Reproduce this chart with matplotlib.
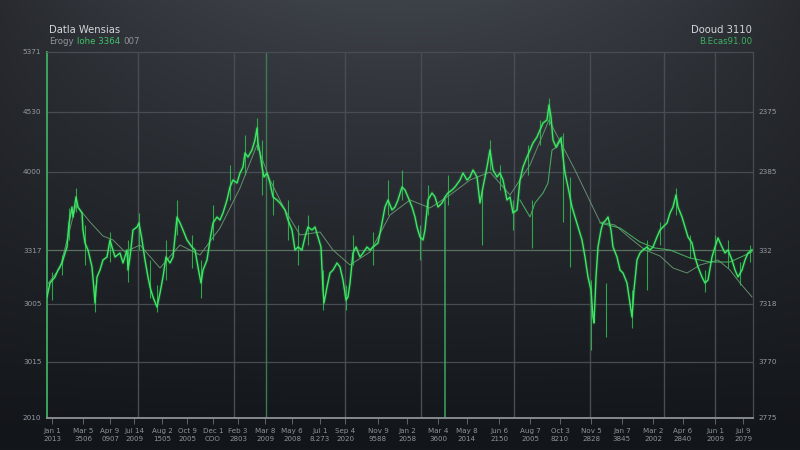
import numpy as np
import matplotlib
matplotlib.use("Agg")
import matplotlib.pyplot as plt

# ---------------- data ----------------
days = [0, 3, 8, 11, 15, 18, 20, 22, 25, 26, 29, 31, 35, 36, 38, 41, 45, 47, 48, 50,
        53, 56, 60, 63, 65, 68, 73, 76, 80, 81, 83, 86, 90, 92, 95, 98, 101, 103, 106, 110,
        113, 116, 119, 123, 126, 130, 133, 136, 140, 145, 148, 151, 154, 156, 160, 163, 166, 170, 173, 176,
        180, 183, 186, 190, 193, 196, 198, 201, 205, 208, 210, 211, 213, 215, 217, 220, 223, 226, 230, 233,
        238, 241, 245, 248, 251, 255, 258, 261, 265, 268, 271, 274, 276, 277, 280, 283, 286, 290, 293, 296,
        299, 301, 303, 306, 309, 313, 316, 320, 323, 326, 331, 335, 338, 341, 345, 348, 351, 355, 358, 361,
        365, 368, 370, 373, 376, 378, 381, 385, 388, 391, 395, 398, 401, 405, 408, 413, 416, 420, 423, 426,
        430, 433, 436, 440, 443, 446, 450, 453, 456, 460, 463, 466, 470, 473, 476, 480, 483, 486, 490, 493,
        496, 500, 502, 504, 506, 509, 511, 514, 516, 518, 521, 525, 528, 531, 535, 538, 541, 544, 546, 547,
        549, 551, 554, 556, 559, 561, 564, 566, 570, 573, 576, 580, 583, 585, 587, 590, 593, 596, 600, 603,
        606, 610, 613, 616, 620, 623, 626, 629, 631, 635, 638, 641, 645, 648, 651, 655, 658, 661, 665, 668,
        671, 675, 678, 681, 685, 688, 691, 695, 698, 701, 705]
price = [3210, 3350, 3410, 3480, 3550, 3650, 3710, 3950, 4110, 4010, 4210, 4110, 4050, 3880, 3750, 3680, 3510, 3280, 3150, 3410,
         3480, 3580, 3610, 3780, 3710, 3610, 3650, 3550, 3680, 3480, 3610, 3880, 3910, 3950, 3780, 3580, 3410, 3310, 3210, 3110,
         3250, 3410, 3610, 3550, 3610, 4010, 3950, 3880, 3780, 3710, 3680, 3510, 3350, 3480, 3580, 3780, 3950, 4010, 3980, 4050,
         4180, 4310, 4380, 4350, 4450, 4510, 4650, 4610, 4680, 4780, 4900, 4750, 4650, 4510, 4410, 4450, 4350, 4210, 4180, 4150,
         4080, 3980, 3880, 3680, 3710, 3680, 3810, 3910, 3880, 3910, 3810, 3710, 3280, 3150, 3310, 3450, 3480, 3550, 3510, 3380,
         3180, 3210, 3350, 3650, 3710, 3610, 3650, 3710, 3680, 3710, 3750, 3950, 4110, 4180, 4080, 4110, 4180, 4310, 4280, 4210,
         4110, 4010, 3910, 3810, 3780, 3880, 4180, 4250, 4210, 4110, 4150, 4210, 4250, 4280, 4310, 4380, 4450, 4380, 4410, 4480,
         4410, 4150, 4310, 4510, 4680, 4480, 4410, 4450, 4380, 4180, 4210, 4050, 4080, 4380, 4510, 4610, 4680, 4750, 4810, 4880,
         4950, 4980, 5130, 5010, 4780, 4710, 4750, 4800, 4610, 4450, 4310, 4110, 4010, 3910, 3780, 3610, 3410, 3280, 3010, 2950,
         3410, 3710, 3880, 3950, 3980, 4010, 3880, 3710, 3610, 3480, 3450, 3350, 3150, 3010, 3280, 3580, 3650, 3680, 3710, 3680,
         3710, 3810, 3880, 3910, 3950, 4050, 4110, 4230, 4110, 4010, 3910, 3810, 3750, 3610, 3510, 3410, 3350, 3380, 3610, 3710,
         3800, 3710, 3650, 3680, 3580, 3480, 3410, 3480, 3580, 3650, 3680]

# high/low wicks
wick_days = [5, 15, 22, 29, 38, 48, 63, 81, 92, 103, 110, 119, 130, 145, 154, 166, 183, 198, 210, 215,
             226, 241, 251, 261, 276, 299, 306, 326, 341, 355, 373, 381, 401, 435, 443, 453, 466, 481, 485, 493,
             502, 516, 523, 544, 559, 585, 600, 613, 629, 643, 658, 668, 681, 693, 703]
wick_high = [3460, 3630, 4100, 4300, 3930, 3330, 3860, 3780, 4050, 3580, 3330, 3780, 4180, 3830, 3580, 4130, 4530, 4830, 5000, 4780,
             4380, 4180, 3930, 4030, 3480, 3330, 3830, 3860, 4380, 4480, 3930, 4330, 4430, 4280, 4780, 4530, 4180, 4730, 4180, 4980,
             5200, 4850, 4410, 3380, 3350, 3280, 3780, 3960, 4300, 3830, 3480, 3830, 3780, 3560, 3730]
wick_low = [3180, 3430, 3780, 4060, 3530, 3060, 3560, 3360, 3680, 3200, 3060, 3380, 3830, 3500, 3200, 3780, 4180, 4430, 4680, 4230,
            4030, 3780, 3530, 3730, 3080, 3080, 3530, 3530, 4030, 4180, 3580, 4030, 4130, 3730, 4480, 4280, 3880, 4430, 3700, 4730,
            4930, 3960, 3510, 2680, 2810, 2900, 3280, 3730, 4030, 3600, 3260, 3560, 3500, 3330, 3560]

# smoothed average line
ma_days = [0, 13, 29, 43, 56, 66, 78, 93, 113, 133, 153, 173, 193, 210, 223, 238, 253, 273, 286, 303,
           323, 343, 363, 383, 403, 423, 443, 463, 483, 502, 528, 553, 568, 583, 598, 613, 626, 640, 653, 671,
           683, 693, 705]
ma_vals = [3330, 3500, 4130, 3960, 3820, 3780, 3660, 3730, 3500, 3730, 3630, 3900, 4300, 4730, 4380, 4080, 3830, 3860, 3680, 3530,
           3660, 4030, 4180, 4100, 4230, 4380, 4460, 4230, 4530, 4980, 4480, 3960, 3930, 3800, 3680, 3620, 3500, 3450, 3530, 3580,
           3480, 3350, 3210]

# secondary signal line (partial)
sig_days = [473, 483, 488, 496, 501, 505, 510, 515, 540, 553, 573, 593, 608, 623, 643, 663, 683, 705]
sig_vals = [4180, 4010, 4150, 4250, 4350, 4680, 4710, 4810, np.nan, 3950, 3900, 3760, 3700, 3680, 3600, 3560, 3560, 3660]

# axes ticks / labels
ytick_vals = [2000, 2560, 3140, 3680, 4460, 5060, 5660]
ylabels_left = ["2010", "3015", "3005", "3317", "4000", "4530", "5371"]
ylabels_right = ["2775", "3770", "7318", "332", "2385", "2375", ""]
xtick_days = [5, 36, 63, 87, 115, 140, 166, 191, 218, 245, 273, 298, 331, 360, 391, 420, 452, 483, 513, 544,
              575, 606, 636, 668, 696]
xlab_top = ["Jan 1", "Mar 5", "Apr 9", "Jul 14", "Aug 2", "Oct 9", "Dec 1", "Feb 3", "Mar 8", "May 6",
            "Jul 1", "Sep 4", "Nov 9", "Jan 2", "Mar 4", "May 8", "Jun 6", "Aug 7", "Oct 3", "Nov 5",
            "Jan 7", "Mar 2", "Apr 6", "Jun 1", "Jul 9"]
xlab_bot = ["2013", "3506", "0907", "2009", "1505", "2005", "COO", "2803", "2009", "2008",
            "8.273", "2020", "9588", "2058", "3600", "2014", "2150", "2005", "8210", "2828",
            "3845", "2002", "2840", "2009", "2079"]
grid_days = [91, 187, 219, 298, 374, 467, 543, 617, 668]
green_grid_day = 398

# ---------------- figure ----------------
W, H = 800, 450
fig = plt.figure(figsize=(8, 4.5), dpi=100)

# background gradient
bg = fig.add_axes([0, 0, 1, 1])
yy, xx = np.mgrid[0:1:225j, 0:1:400j]
top_c = np.array([0x3d, 0x41, 0x48]) / 255
bot_c = np.array([0x13, 0x16, 0x1a]) / 255
t = np.clip(yy * 1.05, 0, 1) ** 0.9
horiz = 1 - 0.35 * (np.abs(xx - 0.5) * 2) ** 2 * (1 - yy)
img = (top_c[None, None, :] * (1 - t[..., None]) + bot_c[None, None, :] * t[..., None]) * horiz[..., None]
bg.imshow(img, aspect="auto", extent=[0, 1, 0, 1], origin="upper")
bg.axis("off")

x0, x1, y0, y1 = 47, 753, 52, 418
ax = fig.add_axes([x0 / W, 1 - y1 / H, (x1 - x0) / W, (y1 - y0) / H])
ax.set_facecolor("none")
ax.set_xlim(0, 706)
ax.set_ylim(2000, 5660)

grid_c = "#484d54"
for v in ytick_vals[1:-1]:
    c = "#5a7060" if v == 3680 else grid_c
    ax.axhline(v, color=c, lw=0.9, zorder=1)
for d in grid_days:
    c = "#3f7a55" if d == 219 else grid_c
    ax.axvline(d, color=c, lw=1.0, zorder=1)
ax.axvline(green_grid_day, ymin=0, ymax=0.6, color="#3aa85a", lw=1.1, zorder=1)

# wicks
ax.vlines(wick_days, wick_low, wick_high, color="#2fbf50", lw=0.8, alpha=0.85, zorder=3)
# moving average and signal
ax.plot(ma_days, ma_vals, color="#6c9a76", lw=0.7, alpha=0.9, zorder=2)
ax.plot(sig_days, sig_vals, color="#4fc56a", lw=0.8, alpha=0.8, zorder=2)
# main line with glow
ax.plot(days, price, color="#2ee05a", lw=2.6, alpha=0.15, zorder=3)
ax.plot(days, price, color="#3de864", lw=1.0, zorder=4)

for s in ["top", "right"]:
    ax.spines[s].set_color(grid_c)
    ax.spines[s].set_linewidth(0.9)
ax.spines["left"].set_color("#3fae5f")
ax.spines["left"].set_linewidth(1.3)
ax.spines["bottom"].set_color("#8e939a")
ax.spines["bottom"].set_linewidth(1.3)

ax.set_yticks(ytick_vals)
ax.set_yticklabels(ylabels_left)
ax.tick_params(axis="y", length=0, pad=4, labelsize=5.2, labelcolor="#969ca3")
ax.set_xticks(xtick_days)
ax.set_xticklabels([a + "\n" + b for a, b in zip(xlab_top, xlab_bot)], linespacing=1.5)
ax.tick_params(axis="x", length=4, width=0.6, color="#6c7178", pad=3, labelsize=5.1, labelcolor="#8f959c")

ax2 = ax.twinx()
ax2.set_ylim(ax.get_ylim())
ax2.set_yticks(ytick_vals)
ax2.set_yticklabels(ylabels_right)
ax2.tick_params(axis="y", length=0, pad=4, labelsize=5.2, labelcolor="#969ca3")
for s in ax2.spines.values():
    s.set_visible(False)

# titles
def ftxt(x, y, s, **kw):
    return fig.text(x / W, 1 - y / H, s, va="center", **kw)

ftxt(49, 30, "Datla Wensias", fontsize=7.2, color="#d3d6da")
ftxt(752, 30, "Dooud 3110", fontsize=7.2, color="#d3d6da", ha="right")
ftxt(752, 41, "B.Ecas91.00", fontsize=6.2, color="#3fb062", ha="right")

# multi-coloured subtitle, placed piece by piece
fig.canvas.draw()
renderer = fig.canvas.get_renderer()
xpos = 49
for s, col in [("Erogy", "#8f959b"), ("lohe 3364", "#3fc46a"), ("007", "#8f959b")]:
    tt = ftxt(xpos, 41, s, fontsize=6.2, color=col)
    bb = tt.get_window_extent(renderer)
    xpos += bb.width + 3

fig.savefig("out.png", dpi=100)
